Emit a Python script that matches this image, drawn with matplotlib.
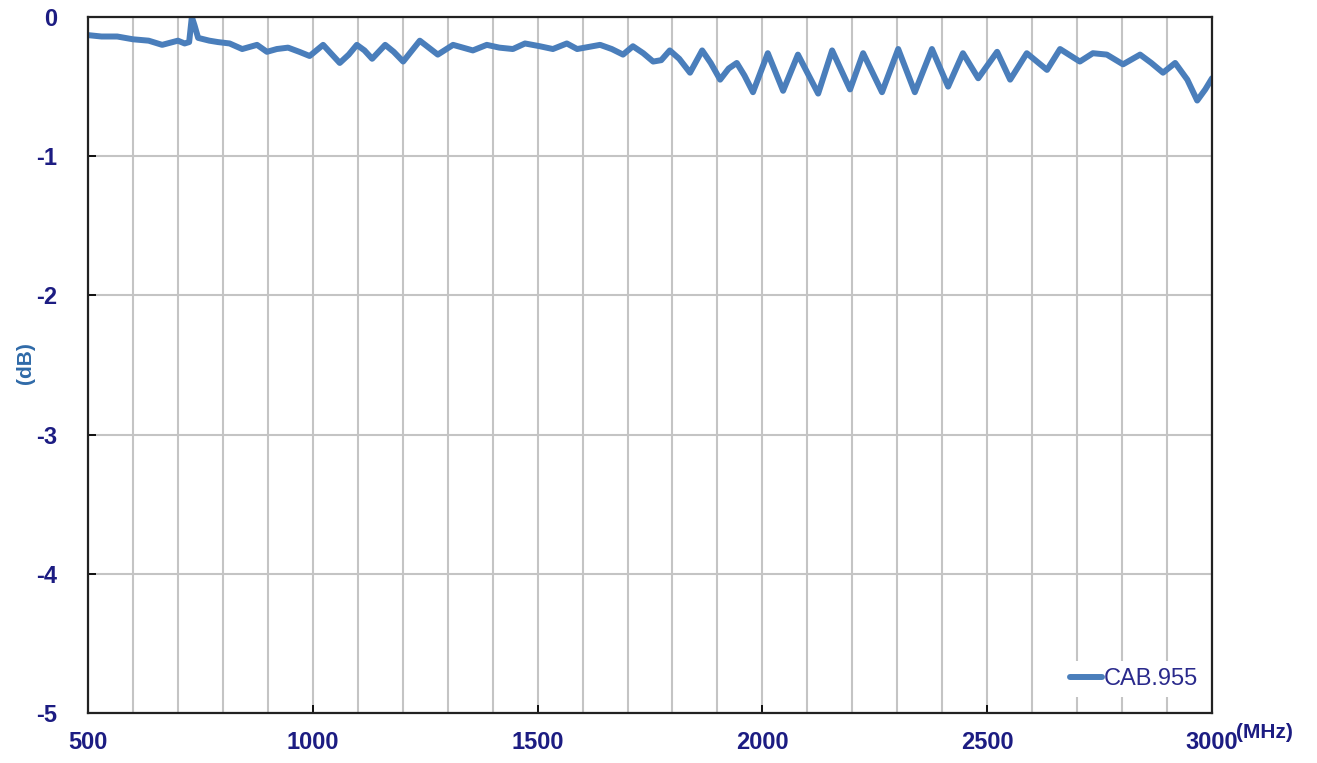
import matplotlib.pyplot as plt
from matplotlib.ticker import MultipleLocator

plt.rcParams['axes.unicode_minus'] = False

# frequency (MHz) and insertion loss (dB)
freq = [500, 530, 565, 600, 635, 665, 700, 715, 725, 731, 737, 745, 770, 789, 815,
        843, 876, 898, 920, 945, 970, 993, 1023, 1040, 1060, 1080, 1098, 1115, 1132,
        1161, 1180, 1201, 1238, 1258, 1278, 1312, 1356, 1387, 1415, 1445, 1472, 1505,
        1534, 1565, 1588, 1639, 1665, 1690, 1712, 1735, 1757, 1775, 1794, 1815, 1839,
        1866, 1885, 1906, 1925, 1943, 1960, 1979, 2012, 2046, 2079, 2124, 2155, 2195,
        2224, 2266, 2302, 2339, 2377, 2413, 2446, 2480, 2522, 2551, 2588, 2633, 2662,
        2706, 2735, 2766, 2802, 2840, 2865, 2891, 2918, 2945, 2967, 2985, 3000]
loss = [-0.13, -0.14, -0.14, -0.16, -0.17, -0.20, -0.17, -0.19, -0.18, 0.0, -0.06,
        -0.15, -0.17, -0.18, -0.19, -0.23, -0.20, -0.25, -0.23, -0.22, -0.25, -0.28,
        -0.20, -0.26, -0.33, -0.27, -0.20, -0.24, -0.30, -0.20, -0.25, -0.32, -0.17,
        -0.22, -0.27, -0.20, -0.24, -0.20, -0.22, -0.23, -0.19, -0.21, -0.23, -0.19,
        -0.23, -0.20, -0.23, -0.27, -0.21, -0.26, -0.32, -0.31, -0.24, -0.30, -0.40,
        -0.24, -0.33, -0.45, -0.37, -0.33, -0.42, -0.54, -0.26, -0.53, -0.27, -0.55,
        -0.24, -0.52, -0.26, -0.54, -0.23, -0.54, -0.23, -0.50, -0.26, -0.44, -0.25,
        -0.45, -0.26, -0.38, -0.23, -0.32, -0.26, -0.27, -0.34, -0.27, -0.33, -0.40,
        -0.33, -0.45, -0.60, -0.52, -0.44]

x_ticks = [500, 1000, 1500, 2000, 2500, 3000]
y_ticks = [0, -1, -2, -3, -4, -5]

navy = '#1c1c82'
blue = '#4a7ebb'

fig = plt.figure(figsize=(13.17, 7.63), dpi=100)
ax = fig.add_axes([0.0668, 0.0655, 0.8535, 0.9122])

ax.plot(freq, loss, color=blue, lw=4.3, label='CAB.955', solid_capstyle='round')

ax.set_xlim(500, 3000)
ax.set_ylim(-5, 0)
ax.set_xticks(x_ticks)
ax.set_yticks(y_ticks)
ax.set_yticklabels([str(v) for v in y_ticks])
ax.xaxis.set_minor_locator(MultipleLocator(100))
ax.grid(True, which='both', axis='x', color='#c4c4c4', lw=1.5)
ax.grid(True, which='major', axis='y', color='#c4c4c4', lw=1.5)
ax.set_axisbelow(True)

ax.tick_params(axis='both', which='major', direction='in', length=6, width=1.3,
               colors='black', labelcolor=navy, labelsize=17)
ax.tick_params(axis='x', which='minor', length=0)
ax.tick_params(axis='y', pad=22)
ax.tick_params(axis='x', pad=13)
for lab in ax.get_xticklabels() + ax.get_yticklabels():
    lab.set_fontfamily('Liberation Sans')
    lab.set_fontweight('bold')

for s in ax.spines.values():
    s.set_color('#222222')
    s.set_linewidth(1.6)

fig.text(25 / 1317, 1 - 363 / 763, '(dB)', color='#2f6aa8', fontsize=15,
         fontweight='bold', family='Liberation Sans', rotation=90,
         ha='center', va='center')
fig.text(1236 / 1317, 1 - 733 / 763, '(MHz)', color=navy, fontsize=15,
         fontweight='bold', family='Liberation Sans', ha='left', va='center')

leg = ax.legend(loc='lower right', bbox_to_anchor=(1.004, 0.006), frameon=True,
                handlelength=1.35, handletextpad=0.05, borderpad=0.3,
                prop={'family': 'Liberation Sans', 'size': 17})
leg.get_frame().set_edgecolor('none')
leg.get_frame().set_facecolor('white')
leg.get_frame().set_alpha(1)
for t in leg.get_texts():
    t.set_color('#2a2a8c')

fig.savefig('out.png', dpi=100)
